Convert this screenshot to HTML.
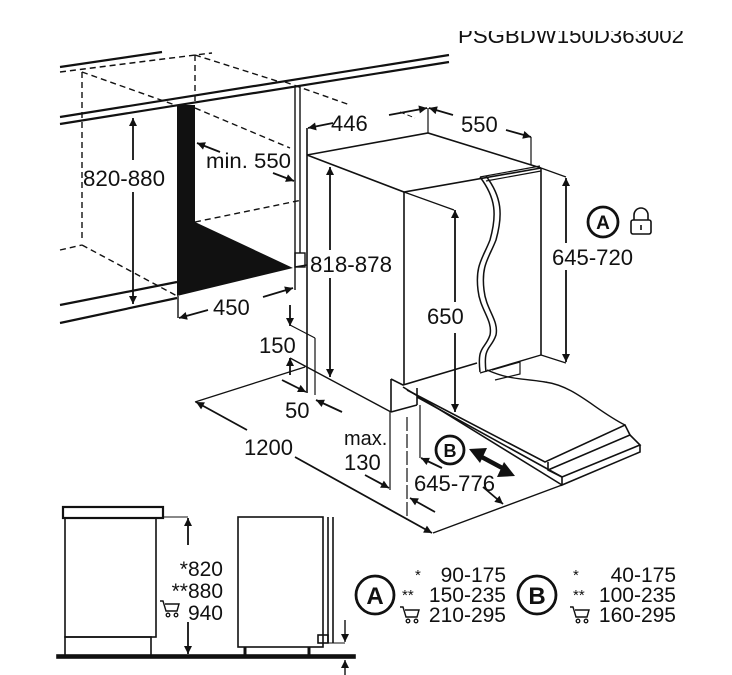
<!DOCTYPE html>
<html><head><meta charset="utf-8"><style>
html,body{margin:0;padding:0;background:#fff;}
svg{display:block;}
text{font-family:"Liberation Sans",Arial,sans-serif;fill:#111;}
</style></head><body>
<svg width="732" height="675" viewBox="0 0 732 675" xmlns="http://www.w3.org/2000/svg">
<defs>
<marker id="ah" viewBox="0 0 10 10" refX="10" refY="5" markerWidth="13" markerHeight="8" orient="auto-start-reverse" markerUnits="userSpaceOnUse"><path d="M0,0 L10,5 L0,10 z" fill="#111"/></marker>
<clipPath id="tc"><rect x="0" y="31" width="732" height="20"/></clipPath>
<g id="cart"><path d="M0,0 h3 l3,10 h11 l2,-7 h-14" fill="none" stroke="#111" stroke-width="1.4"/><circle cx="8" cy="14" r="1.8" fill="none" stroke="#111" stroke-width="1.3"/><circle cx="16" cy="14" r="1.8" fill="none" stroke="#111" stroke-width="1.3"/></g>
</defs>
<rect width="732" height="675" fill="#fff"/>
<text x="458" y="43" font-size="22" textLength="226" lengthAdjust="spacingAndGlyphs" clip-path="url(#tc)">PSGBDW150D363002</text>

<g stroke="#111" fill="none" stroke-width="1.4">
<line x1="60" y1="67" x2="162" y2="52" stroke-width="2.2"/>
<polyline points="60,72 195,55 212,53" stroke-dasharray="6,4"/>
<line x1="195" y1="55" x2="280" y2="82" stroke-dasharray="6,4"/>
<line x1="82" y1="72" x2="82" y2="240" stroke-dasharray="6,4"/>
<line x1="195" y1="55" x2="195" y2="105" stroke-dasharray="6,4"/>
<line x1="82" y1="72" x2="175" y2="105" stroke-dasharray="6,4"/>
<line x1="60" y1="250" x2="82" y2="245" stroke-dasharray="6,4"/>
<line x1="82" y1="245" x2="177" y2="296" stroke-dasharray="6,4"/>
<line x1="195" y1="108" x2="290" y2="148" stroke-dasharray="6,4"/>
<line x1="195" y1="222" x2="302" y2="200" stroke-dasharray="6,4"/>
<line x1="285" y1="82" x2="350" y2="105" stroke-dasharray="6,4"/>
<line x1="60" y1="117" x2="449" y2="55" stroke-width="2.2"/>
<line x1="60" y1="124" x2="449" y2="62" stroke-width="2.2"/>
<line x1="60" y1="305" x2="177" y2="282" stroke-width="2.2"/>
<line x1="60" y1="323" x2="177" y2="298" stroke-width="2.2"/>
<line x1="295" y1="86" x2="295" y2="290"/>
<line x1="300" y1="86" x2="300" y2="253"/>
<rect x="295" y="253" width="10" height="14"/>
<line x1="295" y1="267" x2="307" y2="265"/>
<line x1="178" y1="296" x2="178" y2="318"/>
</g>
<polygon points="177,105 195,105 195,222 293,268 177,296" fill="#111"/>

<line x1="133" y1="118" x2="133" y2="160" stroke="#111" stroke-width="1.8" marker-start="url(#ah)"/>
<line x1="133" y1="192" x2="133" y2="304" stroke="#111" stroke-width="1.8" marker-end="url(#ah)"/>
<text x="83" y="186" font-size="22" textLength="82" lengthAdjust="spacingAndGlyphs">820-880</text>
<line x1="220" y1="152" x2="197" y2="143" stroke="#111" stroke-width="1.8" marker-end="url(#ah)"/>
<line x1="273" y1="173" x2="294" y2="181" stroke="#111" stroke-width="1.8" marker-end="url(#ah)"/>
<text x="206" y="168" font-size="21" textLength="85" lengthAdjust="spacingAndGlyphs">min. 550</text>
<line x1="208" y1="310" x2="179" y2="318" stroke="#111" stroke-width="1.8" marker-end="url(#ah)"/>
<line x1="263" y1="297" x2="293" y2="288" stroke="#111" stroke-width="1.8" marker-end="url(#ah)"/>
<text x="213" y="315" font-size="22">450</text>

<g stroke="#111" fill="none" stroke-width="1.6">
<polyline points="307,155 428,133 541,168"/>
<polyline points="307,155 404,192 541,168"/>
<line x1="404" y1="192" x2="404" y2="385"/>
<line x1="541" y1="168" x2="541" y2="355"/>
<line x1="307" y1="128" x2="307" y2="393"/>
<line x1="428" y1="108" x2="428" y2="133" stroke-width="1.2"/>
<line x1="531" y1="137" x2="531" y2="165" stroke-width="1.2"/>
<line x1="404" y1="192" x2="454" y2="210" stroke-width="1.2"/>
<line x1="541" y1="168" x2="566" y2="177" stroke-width="1.2"/>
<line x1="541" y1="355" x2="566" y2="363" stroke-width="1.2"/>
<line x1="400" y1="112" x2="415" y2="118" stroke-dasharray="5,3" stroke-width="1"/>
<path d="M480,177 C496,198 497,215 490,240 C483,258 475,265 478,290 C480,310 493,320 490,335 C485,350 477,345 480,372" stroke-width="1.5"/>
<path d="M486,176 C502,197 503,215 496,240 C489,258 481,265 484,290 C486,310 499,320 496,335 C491,350 483,345 486,372" stroke-width="1.5"/>
<line x1="480" y1="177" x2="540" y2="166" stroke-width="1.2"/>
<line x1="486" y1="181" x2="541" y2="171" stroke-width="1.2"/>
<polyline points="541,355 480,373" stroke-width="1.4"/>
<polyline points="492,370 520,362 520,374 495,380" stroke-width="1.2"/>
<polyline points="391,379 403,385 477,363"/>
<line x1="391" y1="379" x2="391" y2="412"/>
<line x1="391" y1="412" x2="417" y2="405"/>
<line x1="417" y1="388" x2="417" y2="405"/>
<line x1="403" y1="387" x2="562" y2="485"/>
<line x1="417" y1="397" x2="562" y2="477"/>
<path d="M487,370 C510,380 520,378 545,382 C575,386 595,410 625,425" stroke-width="1.4"/>
<polyline points="407,390 545,462 625,425 630,435 548,470"/>
<polyline points="548,462 548,470 562,477 640,445 630,435"/>
<polyline points="562,477 562,485 640,452 640,445"/>
<line x1="195" y1="402" x2="305" y2="367" stroke-width="1.3"/>
<line x1="290" y1="358" x2="391" y2="412" stroke-width="1.4"/>
<line x1="433" y1="533" x2="562" y2="485" stroke-width="1.4"/>
<line x1="290" y1="325" x2="315" y2="338" stroke-width="1.2"/>
<line x1="315" y1="338" x2="315" y2="395" stroke-width="1.2"/>
<line x1="390" y1="412" x2="390" y2="490" stroke-width="1.2"/>
<line x1="407" y1="417" x2="407" y2="520" stroke-width="1.2" stroke-dasharray="14,3"/>
<line x1="420" y1="405" x2="420" y2="458" stroke-width="1.2"/>
</g>
<line x1="333" y1="123" x2="308" y2="128" stroke="#111" stroke-width="1.8" marker-end="url(#ah)"/>
<text x="331" y="131" font-size="22">446</text>
<line x1="389" y1="115" x2="427" y2="108" stroke="#111" stroke-width="1.8" marker-end="url(#ah)"/>
<line x1="453" y1="115" x2="429" y2="108" stroke="#111" stroke-width="1.8" marker-end="url(#ah)"/>
<text x="461" y="132" font-size="22">550</text>
<line x1="506" y1="130" x2="531" y2="137" stroke="#111" stroke-width="1.8" marker-end="url(#ah)"/>
<line x1="330" y1="250" x2="330" y2="167" stroke="#111" stroke-width="1.8" marker-end="url(#ah)"/>
<line x1="330" y1="278" x2="330" y2="377" stroke="#111" stroke-width="1.8" marker-end="url(#ah)"/>
<text x="310" y="272" font-size="22" textLength="82" lengthAdjust="spacingAndGlyphs">818-878</text>
<line x1="455" y1="302" x2="455" y2="210" stroke="#111" stroke-width="1.8" marker-end="url(#ah)"/>
<line x1="455" y1="333" x2="455" y2="412" stroke="#111" stroke-width="1.8" marker-end="url(#ah)"/>
<text x="427" y="324" font-size="22">650</text>
<line x1="566" y1="243" x2="566" y2="178" stroke="#111" stroke-width="1.8" marker-end="url(#ah)"/>
<line x1="566" y1="270" x2="566" y2="362" stroke="#111" stroke-width="1.8" marker-end="url(#ah)"/>
<text x="552" y="265" font-size="22" textLength="81" lengthAdjust="spacingAndGlyphs">645-720</text>
<circle cx="603" cy="222" r="15" fill="none" stroke="#111" stroke-width="2.8"/>
<text x="603" y="229" font-size="19" text-anchor="middle" font-weight="bold">A</text>
<rect x="631" y="220" width="20" height="14" rx="2" fill="none" stroke="#111" stroke-width="1.6"/>
<path d="M634,220 v-5 a7,7 0 0 1 14,0 v5" fill="none" stroke="#111" stroke-width="1.6"/>
<line x1="641" y1="225" x2="641" y2="230" stroke="#111" stroke-width="1.6"/>
<line x1="290" y1="305" x2="290" y2="326" stroke="#111" stroke-width="1.8" marker-end="url(#ah)"/>
<line x1="290" y1="375" x2="290" y2="358" stroke="#111" stroke-width="1.8" marker-end="url(#ah)"/>
<text x="259" y="353" font-size="22">150</text>
<line x1="282" y1="380" x2="306" y2="392" stroke="#111" stroke-width="1.8" marker-end="url(#ah)"/>
<line x1="342" y1="412" x2="316" y2="400" stroke="#111" stroke-width="1.8" marker-end="url(#ah)"/>
<text x="285" y="418" font-size="22">50</text>
<line x1="247" y1="430" x2="196" y2="402" stroke="#111" stroke-width="1.8" marker-end="url(#ah)"/>
<line x1="295" y1="457" x2="432" y2="533" stroke="#111" stroke-width="1.8" marker-end="url(#ah)"/>
<text x="244" y="455" font-size="22">1200</text>
<text x="344" y="445" font-size="20">max.</text>
<text x="344" y="470" font-size="22">130</text>
<line x1="365" y1="475" x2="389" y2="488" stroke="#111" stroke-width="1.8" marker-end="url(#ah)"/>
<line x1="442" y1="468" x2="421" y2="458" stroke="#111" stroke-width="1.8" marker-end="url(#ah)"/>
<text x="414" y="491" font-size="22" textLength="81" lengthAdjust="spacingAndGlyphs">645-776</text>
<line x1="483" y1="487" x2="503" y2="504" stroke="#111" stroke-width="1.8" marker-end="url(#ah)"/>
<line x1="435" y1="512" x2="410" y2="498" stroke="#111" stroke-width="1.8" marker-end="url(#ah)"/>
<circle cx="450" cy="450" r="14" fill="none" stroke="#111" stroke-width="2.8"/>
<text x="450" y="457" font-size="18" text-anchor="middle" font-weight="bold">B</text>
<line x1="478" y1="455" x2="506" y2="470" stroke="#111" stroke-width="4.5"/>
<polygon points="469,449 487,448 480,463" fill="#111"/>
<polygon points="515,476 497,477 504,462" fill="#111"/>

<g stroke="#111" fill="none" stroke-width="1.6">
<rect x="63" y="507" width="100" height="11" stroke-width="2.2"/>
<rect x="65" y="518" width="91" height="119"/>
<rect x="65" y="637" width="86" height="19"/>
<rect x="57" y="655" width="298" height="3" fill="#111"/>
<line x1="163" y1="517" x2="188" y2="517" stroke-width="1"/>
<rect x="238" y="517" width="85" height="130"/>
<line x1="328" y1="517" x2="328" y2="643"/>
<line x1="333" y1="517" x2="333" y2="643"/>
<rect x="318" y="635" width="10" height="8"/>
<line x1="323" y1="643" x2="345" y2="643" stroke-width="1"/>
<line x1="245" y1="647" x2="245" y2="655" stroke-width="3"/>
<line x1="309" y1="647" x2="309" y2="655" stroke-width="3"/>
</g>
<line x1="188" y1="545" x2="188" y2="518" stroke="#111" stroke-width="1.8" marker-end="url(#ah)"/>
<line x1="188" y1="622" x2="188" y2="654" stroke="#111" stroke-width="1.8" marker-end="url(#ah)"/>
<text x="223" y="576" font-size="21" text-anchor="end">*820</text>
<text x="223" y="598" font-size="21" text-anchor="end">**880</text>
<text x="223" y="620" font-size="21" text-anchor="end">940</text>
<use href="#cart" x="160" y="601"/>
<line x1="345" y1="620" x2="345" y2="642" stroke="#111" stroke-width="1.4" marker-end="url(#ah)"/>
<line x1="345" y1="675" x2="345" y2="660" stroke="#111" stroke-width="1.4" marker-end="url(#ah)"/>

<circle cx="375" cy="595" r="19" fill="none" stroke="#111" stroke-width="2.8"/>
<text x="375" y="604" font-size="24" text-anchor="middle" font-weight="bold">A</text>
<text x="415" y="580" font-size="15">*</text>
<text x="506" y="582" font-size="21" text-anchor="end">90-175</text>
<text x="402" y="600" font-size="15">**</text>
<text x="506" y="602" font-size="21" text-anchor="end">150-235</text>
<use href="#cart" x="400" y="607"/>
<text x="506" y="622" font-size="21" text-anchor="end">210-295</text>

<circle cx="537" cy="595" r="19" fill="none" stroke="#111" stroke-width="2.8"/>
<text x="537" y="604" font-size="24" text-anchor="middle" font-weight="bold">B</text>
<text x="573" y="580" font-size="15">*</text>
<text x="676" y="582" font-size="21" text-anchor="end">40-175</text>
<text x="573" y="600" font-size="15">**</text>
<text x="676" y="602" font-size="21" text-anchor="end">100-235</text>
<use href="#cart" x="570" y="607"/>
<text x="676" y="622" font-size="21" text-anchor="end">160-295</text>
</svg>
</body></html>
